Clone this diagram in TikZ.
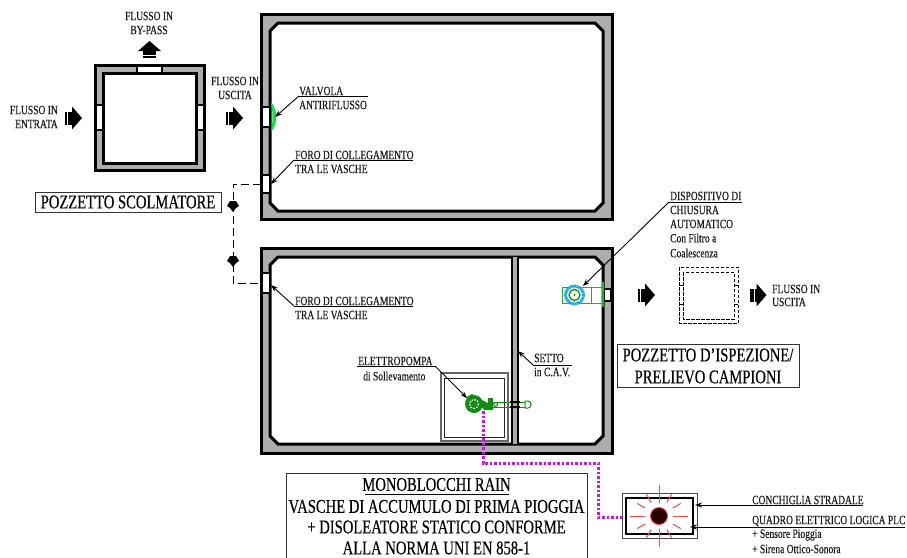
\documentclass[tikz,border=0pt]{standalone}
\usepackage{fontspec}
\setmainfont[FakeStretch=0.75,FakeBold=0.3]{Liberation Serif}
\usetikzlibrary{arrows.meta}
\definecolor{wallgray}{gray}{0.68}
\definecolor{valvegreen}{RGB}{20,225,70}
\definecolor{pipegreen}{RGB}{20,140,20}
\definecolor{devgreen}{RGB}{40,170,60}
\definecolor{devblue}{RGB}{20,170,230}
\definecolor{cablepurple}{RGB}{200,20,240}
\definecolor{rayred}{RGB}{245,70,80}
\definecolor{inktext}{gray}{0.1}
\tikzset{
  wallline/.style={line width=3pt,black},
  wallfill/.style={fill=wallgray,even odd rule},
  opening/.style={fill=white,draw=black,line width=1.8pt},
  lab/.style={inner sep=0pt,anchor=west,font=\fontsize{12.7}{14}\selectfont,text=inktext},
  labc/.style={inner sep=0pt,anchor=center,font=\fontsize{12.7}{14}\selectfont,text=inktext},
  titlebox/.style={draw=black!80,line width=0.8pt,inner sep=0pt,fill=white},
  titletext/.style={inner sep=0pt,anchor=center,font=\fontsize{19.5}{21}\selectfont,text=black},
  leader/.style={line width=0.9pt,black},
  leadertip/.style={line width=0.9pt,black,-{Stealth[length=7pt,width=5pt]}},
  pitline/.style={line width=1pt,black!85},
  fatarrow/.pic={
    \fill[black] (-8.5,-6.5) rectangle (-6.5,6.5);
    \fill[black] (-5.9,-6.5) rectangle (-3.9,6.5);
    \fill[black] (-3.3,-6.5) rectangle (0.5,6.5);
    \fill[black] (-1.5,-11.5) -- (8.5,0) -- (-1.5,11.5) -- cycle;
  },
  flowmark/.pic={
    \fill[black] (-3,-5) -- (3,-5) -- (6,0) -- (3,2) -- (0,6) -- (-3,2) -- (-6,0) -- cycle;
  }
}
\begin{document}
\begin{tikzpicture}[x=1pt,y=-1pt]
\useasboundingbox (0,0) rectangle (907,557);

% ---------- small overflow well
\fill[wallfill] (95,65) rectangle (204,170) (103,73) rectangle (196,163);
\draw[wallline] (95,65) rectangle (204,170);
\draw[wallline] (103,73) rectangle (196,163);
\draw[opening] (137,66) rectangle (162,73);
\draw[opening] (96,105) rectangle (103,130);
\draw[opening] (197,105) rectangle (204,130);

% ---------- upper tank
\fill[wallfill] (261,14) rectangle (612,219)
  (278,23) -- (595,23) -- (603,31) -- (603,203) -- (595,211) -- (278,211) -- (270,203) -- (270,31) -- cycle;
\draw[wallline] (261,14) rectangle (612,219);
\draw[wallline] (278,23) -- (595,23) -- (603,31) -- (603,203) -- (595,211) -- (278,211) -- (270,203) -- (270,31) -- cycle;
\draw[opening] (262,107) rectangle (270,127);
\draw[opening] (262,175) rectangle (270,193);

% ---------- lower tank
\fill[wallfill] (261,248) rectangle (612,453)
  (278,257) -- (595,257) -- (603,265) -- (603,436) -- (595,444) -- (278,444) -- (270,436) -- (270,265) -- cycle;
\draw[wallline] (261,248) rectangle (612,453);
\draw[wallline] (278,257) -- (595,257) -- (603,265) -- (603,436) -- (595,444) -- (278,444) -- (270,436) -- (270,265) -- cycle;
\fill[wallgray] (512,257) rectangle (518,444);
\draw[line width=2.4pt] (512,257) -- (512,444);
\draw[line width=2.4pt] (518,257) -- (518,444);
\draw[opening] (262,273) rectangle (270,293);
\draw[opening] (604,289) rectangle (611,301);

% ---------- green non-return valve
\fill[valvegreen] (271,102) .. controls (278,110) and (278,124) .. (271,132) .. controls (273,122) and (273,112) .. (271,102) -- cycle;

% ---------- dashed link
\coordinate (linkA) at (261,184);
\coordinate (linkB) at (261,283);
\draw[line width=0.9pt,dash pattern=on 8pt off 4pt] (linkA) -- (233,184) -- (233,283) -- (linkB);
\pic at (233,206) {flowmark};
\pic at (233,261) {flowmark};

% ---------- flow arrows
\pic at (73.5,118) {fatarrow};
\pic at (234.5,118) {fatarrow};
\pic[rotate=90] at (149.5,49.5) {fatarrow};
\pic at (646.5,295) {fatarrow};
\pic at (758,295) {fatarrow};

% ---------- flow labels
\node[labc] (byp1) at (149,16) {FLUSSO IN};
\node[labc] (byp2) at (149,30) {BY-PASS};
\node[labc] (usc1) at (235,81) {FLUSSO IN};
\node[labc] (usc2) at (235,95) {USCITA};
\node[lab,anchor=east] (ent1) at (58,110) {FLUSSO IN};
\node[lab,anchor=east] (ent2) at (58,124) {ENTRATA};
\node[lab] (out1) at (772,289) {FLUSSO IN};
\node[lab] (out2) at (772,302) {USCITA};

% ---------- leaders
\node[lab] (val1) at (299,91) {VALVOLA};
\node[lab] (val2) at (299,105) {ANTIRIFLUSSO};
\coordinate (valT) at (275,117);
\draw[leader] (368,96) -- (299,96);
\draw[leadertip] (299,96) -- (valT);

\node[lab] (for1) at (295,155) {FORO DI COLLEGAMENTO};
\node[lab] (for2) at (295,169) {TRA LE VASCHE};
\coordinate (forT) at (271,184);
\draw[leader] (413,160) -- (294,160);
\draw[leadertip] (294,160) -- (forT);

\node[lab] (fob1) at (295,301) {FORO DI COLLEGAMENTO};
\node[lab] (fob2) at (295,315) {TRA LE VASCHE};
\coordinate (fobT) at (271,285);
\draw[leader] (413,306) -- (294,306);
\draw[leadertip] (294,306) -- (fobT);

% ---------- inspection well (dashed)
\draw[line width=1pt,dash pattern=on 3.5pt off 1.5pt] (679,267) rectangle (738,323);
\draw[line width=1pt,dash pattern=on 3.5pt off 1.5pt] (683,272) rectangle (734,319);
\draw[line width=0.8pt] (679,285) -- (683,285) (679,304) -- (683,304) (734,285) -- (738,285) (734,304) -- (738,304);

% ---------- closing device
\draw[devgreen,line width=1pt] (562,287) rectangle (603,303);
\draw[devgreen,line width=1pt] (591,287) -- (591,303);
\draw[devgreen,line width=1.6pt] (603,282) -- (603,307);
\fill[white] (574.5,295) circle (9);
\draw[devblue,line width=3pt,dash pattern=on 1.6pt off 0.5pt] (574.5,295) circle (9);
\draw[pipegreen,line width=1.3pt] (574.5,295) circle (5.5);
\fill[pipegreen] (574.5,295) circle (1.1);

\node[lab] (dis1) at (670,196) {DISPOSITIVO DI};
\node[lab] (dis2) at (670,210) {CHIUSURA};
\node[lab] (dis3) at (670,224) {AUTOMATICO};
\node[lab] (dis4) at (670,238) {Con Filtro a};
\node[lab] (dis5) at (670,253) {Coalescenza};
\coordinate (disT) at (583,286);
\draw[leader] (742,202) -- (669,202);
\draw[leadertip] (669,202) -- (disT);

% ---------- pump pit
\draw[pitline,black!60,line width=1.1pt] (441,373) rectangle (508,441);
\draw[pitline] (444,378) rectangle (504,437);

% ---------- pump
\draw[pipegreen,line width=1pt] (492,402) -- (525,402) (492,407) -- (525,407);
\draw[pipegreen,line width=1pt] (525,401) -- (528,401) .. controls (532,401) and (532,408) .. (528,408) -- (525,408) -- cycle;
\fill[black] (510,401) rectangle (520,403) (510,406) rectangle (520,408);
\fill[pipegreen] (474,404) circle (9);
\fill[pipegreen] (465,398) -- (472,394) -- (480,400) -- cycle;
\draw[white,line width=1.2pt,dash pattern=on 1.5pt off 1.5pt] (474,404) circle (4.5);
\fill[pipegreen] (482,400) -- (488,403) -- (491,398) -- (493,402) -- (491,410) -- (484,410) -- (481,406) -- cycle;
\fill[pipegreen] (488,398) rectangle (493,410);
\draw[pipegreen,line width=1pt,fill=white] (495.5,404.5) circle (2);

\node[lab] (pump1) at (358,361) {ELETTROPOMPA};
\node[lab] (pump2) at (363,376) {di Sollevamento};
\coordinate (pumpT) at (467,398);
\draw[leader] (357,366) -- (435,366);
\draw[leadertip] (435,366) -- (pumpT);

\node[lab] (set1) at (534,358) {SETTO};
\node[lab] (set2) at (534,372) {in C.A.V.};
\coordinate (setT) at (518,351);
\draw[leader] (572,365) -- (533,365);
\draw[leadertip] (533,365) -- (setT);

% ---------- cable
\draw[cablepurple,line width=3pt,dash pattern=on 2.8pt off 1.7pt] (483,411) -- (483,463) -- (598,463) -- (598,517) -- (622,517);

% ---------- road cover and panel
\draw[pitline,black!70] (622,493) rectangle (697,538);
\draw[line width=1.1pt] (626,498) rectangle (693,534);
\foreach \a in {30,60,120,150,210,240,300,330}{
  \draw[rayred,line width=1pt] (659,516) ++(\a:16) -- ++(\a:9);
}
\draw[rayred,line width=1pt] (659,485) -- (659,503) (659,529) -- (659,547) (630,516) -- (645,516) (673,516) -- (688,516);
\fill[black!85!red,draw=rayred,line width=0.9pt] (659,516) circle (8.5);

\node[lab] (con) at (752,500) {CONCHIGLIA STRADALE};
\node[lab] (qua) at (752,521) {QUADRO ELETTRICO LOGICA PLC};
\node[lab] (sen) at (752,535) {+ Sensore Pioggia};
\node[lab] (sir) at (752,549) {+ Sirena Ottico-Sonora};
\coordinate (conS) at (863,505);
\coordinate (conT) at (695,505);
\coordinate (quaS) at (905,527);
\coordinate (quaT) at (690,527);
\draw[leadertip] (conS) -- (conT);
\draw[leadertip] (quaS) -- (quaT);

% ---------- title boxes
\node[titlebox,minimum width=186pt,minimum height=20pt,anchor=north west] (scbox) at (35,192) {};
\node[titletext] (sc) at (128,202) {POZZETTO SCOLMATORE};

\node[titlebox,minimum width=182pt,minimum height=43pt,anchor=north west] (isbox) at (617,344) {};
\node[titletext] (is1) at (708,355) {POZZETTO D{\char"27}ISPEZIONE/};
\node[titletext] (is2) at (708,377) {PRELIEVO CAMPIONI};

\draw[draw=black!80,line width=0.8pt] (286,560) -- (286,473) -- (587,473) -- (587,560);
\node[titletext] (mo1) at (436.5,484.5) {MONOBLOCCHI RAIN};
\draw[line width=0.7pt] (365,494) -- (509,494);
\node[titletext] (mo2) at (436.5,506.5) {VASCHE DI ACCUMULO DI PRIMA PIOGGIA};
\node[titletext] (mo3) at (436.5,527) {+ DISOLEATORE STATICO CONFORME};
\node[titletext] (mo4) at (436.5,548) {ALLA NORMA UNI EN 858-1};
\end{tikzpicture}
\end{document}
